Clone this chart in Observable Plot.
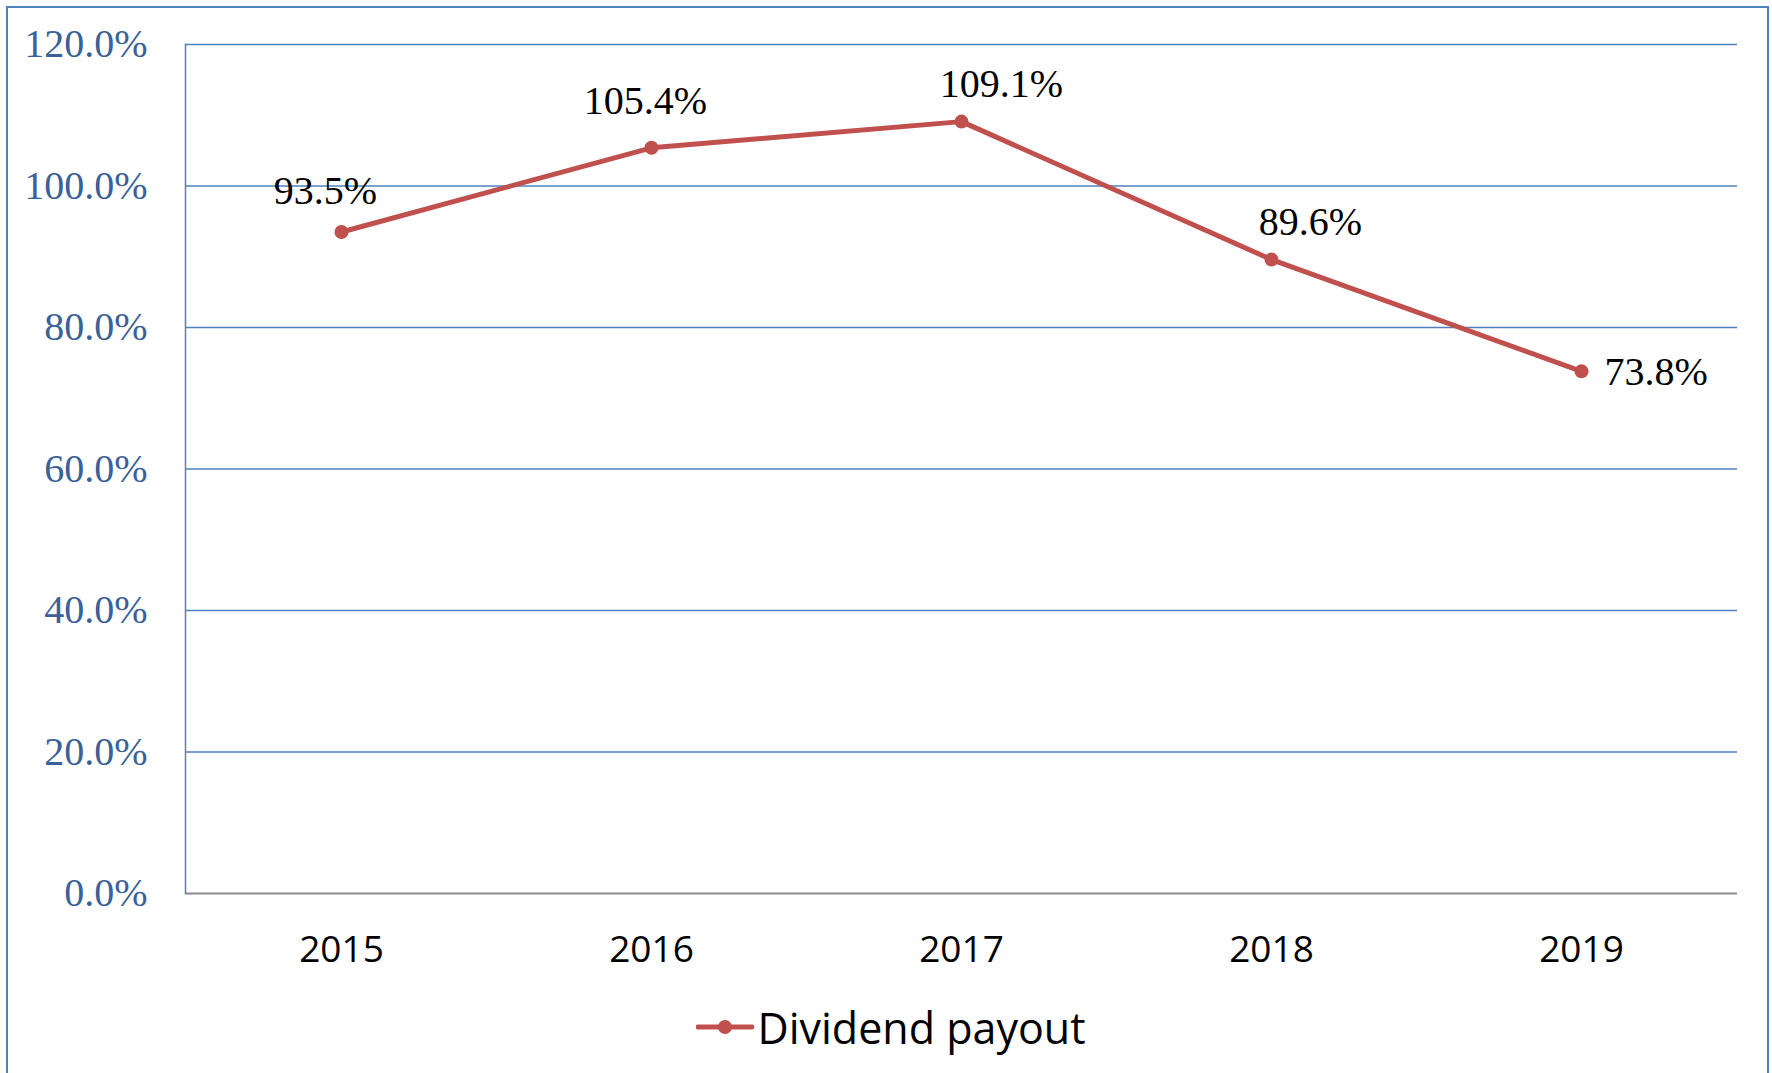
<!DOCTYPE html>
<html>
<head>
<meta charset="utf-8">
<script src="https://cdn.jsdelivr.net/npm/d3@7"></script>
<script src="https://cdn.jsdelivr.net/npm/@observablehq/plot@0.6"></script>
<style>
  html, body { margin: 0; padding: 0; background: #fff; overflow: hidden; }
  #wrap { position: relative; width: 1772px; height: 1073px; }
  #border { position: absolute; left: 6px; top: 6px; width: 1763px; height: 1200px;
            box-sizing: border-box; border: 2px solid #4F81BD; pointer-events: none; }
  #legend { position: absolute; left: 0; top: 990px; width: 1772px; height: 74px;
            display: flex; justify-content: center; align-items: center; padding-left: 10px; box-sizing: border-box;
            font-family: "Open Sans", sans-serif; font-size: 43px; color: #000; }
  #legend svg { margin-right: 3px; }
</style>
</head>
<body>
<div id="wrap">
  <div id="chart"></div>
  <div id="legend"></div>
  <div id="border"></div>
</div>
<script>
const years = ["2015", "2016", "2017", "2018", "2019"];
const payout = [93.5, 105.4, 109.1, 89.6, 73.8];
const yTicks = [0, 20, 40, 60, 80, 100, 120];
const seriesName = "Dividend payout";

const data = years.map((year, i) => ({year, payout: payout[i], label: payout[i].toFixed(1) + "%"}));

const lineColor = "#C0504D";
const gridColor = "#4F81BD";

// label placement (Excel-like manual offsets)
const place = [
  {dx: -16, dy: -41, anchor: "middle"},
  {dx: -6, dy: -47, anchor: "middle"},
  {dx: 40, dy: -37, anchor: "middle"},
  {dx: 39, dy: -37, anchor: "middle"},
  {dx: 23, dy: 1, anchor: "start"}
];

const labelMarks = data.map((d, i) => Plot.text([d], {
  x: "year", y: "payout", text: "label",
  dx: place[i].dx, dy: place[i].dy, textAnchor: place[i].anchor,
  fontFamily: "Liberation Serif, serif", fontSize: 40, fill: "#000"
}));

const chart = Plot.plot({
  width: 1772,
  height: 990,
  marginLeft: 185,
  marginRight: 35,
  marginTop: 44,
  marginBottom: 97,
  x: {type: "point", domain: years, padding: 0.5},
  y: {domain: [0, 120]},
  marks: [
    Plot.ruleY(yTicks.filter(t => t > 0), {stroke: gridColor, strokeWidth: 1.5}),
    Plot.ruleY([0], {stroke: "#8C8C8C", strokeWidth: 2}),
    Plot.frame({anchor: "left", stroke: gridColor, strokeWidth: 1.5}),
    Plot.axisY({ticks: yTicks, tickSize: 0, tickPadding: 38, label: null,
      tickFormat: d => d.toFixed(1) + "%",
      fontFamily: "Liberation Serif, serif", fontSize: 40, fill: "#3A6198"}),
    Plot.axisX({tickSize: 0, tickPadding: 42, label: null,
      fontFamily: "Open Sans, sans-serif", fontSize: 37, fill: "#000"}),
    Plot.line(data, {x: "year", y: "payout", stroke: lineColor, strokeWidth: 5}),
    Plot.dot(data, {x: "year", y: "payout", r: 7, fill: lineColor, stroke: "none"}),
    ...labelMarks
  ]
});
chart.style.display = "block";
document.getElementById("chart").appendChild(chart);

// legend
const leg = document.getElementById("legend");
const ns = "http://www.w3.org/2000/svg";
const sw = document.createElementNS(ns, "svg");
sw.setAttribute("width", 58); sw.setAttribute("height", 20);
const ln = document.createElementNS(ns, "line");
ln.setAttribute("x1", 2); ln.setAttribute("x2", 56); ln.setAttribute("y1", 10); ln.setAttribute("y2", 10);
ln.setAttribute("stroke", lineColor); ln.setAttribute("stroke-width", 5); ln.setAttribute("stroke-linecap", "round");
const c = document.createElementNS(ns, "circle");
c.setAttribute("cx", 29); c.setAttribute("cy", 10); c.setAttribute("r", 7); c.setAttribute("fill", lineColor);
sw.appendChild(ln); sw.appendChild(c);
leg.appendChild(sw);
const sp = document.createElement("span");
sp.textContent = seriesName;
leg.appendChild(sp);
</script>
</body>
</html>
